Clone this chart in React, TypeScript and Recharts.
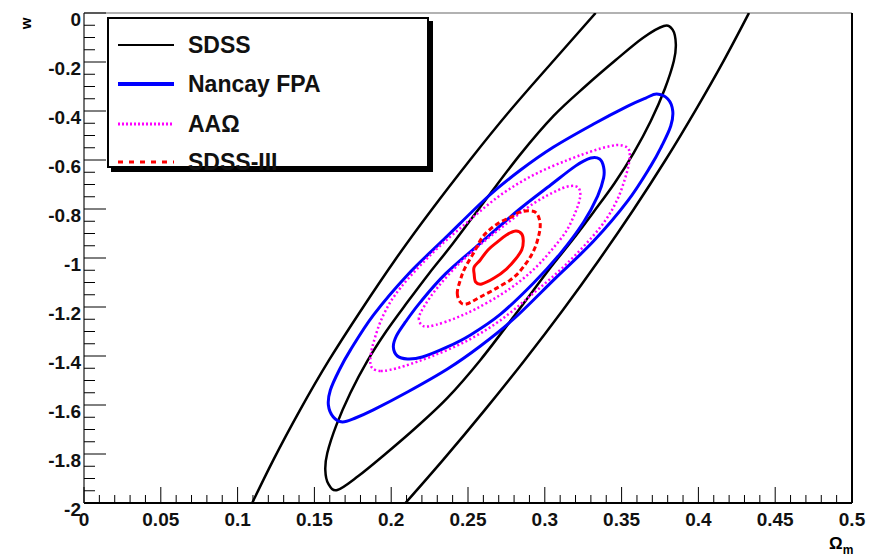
import { LineChart, Line, XAxis, YAxis, ReferenceLine } from "recharts";

type P = [number, number];

// contour points: [Omega_m, w]
const sdss2Left: P[] = [
  [0.1095, -2], [0.1233, -1.824], [0.1407, -1.62], [0.1596, -1.416], [0.1805, -1.212],
  [0.2025, -1.008], [0.2262, -0.804], [0.2513, -0.6], [0.2777, -0.396], [0.3061, -0.192], [0.3331, 0],
];
const sdss2Right: P[] = [
  [0.2093, -2], [0.2338, -1.824], [0.261, -1.62], [0.287, -1.416], [0.3118, -1.212],
  [0.3353, -1.008], [0.3576, -0.804], [0.3786, -0.6], [0.3982, -0.396], [0.4167, -0.192], [0.4329, 0],
];
const sdss1: P[] = [
  [0.1649, -1.947], [0.1591, -1.922], [0.1571, -1.865], [0.1584, -1.796], [0.1643, -1.682],
  [0.1734, -1.551], [0.1845, -1.42], [0.1969, -1.298], [0.2106, -1.18], [0.2249, -1.061],
  [0.2399, -0.943], [0.2614, -0.763], [0.2842, -0.576], [0.3057, -0.42], [0.3266, -0.298],
  [0.3462, -0.192], [0.3638, -0.102], [0.3775, -0.053], [0.3833, -0.069], [0.3853, -0.127],
  [0.384, -0.196], [0.3781, -0.31], [0.369, -0.441], [0.3579, -0.571], [0.3455, -0.694],
  [0.3318, -0.812], [0.3175, -0.931], [0.3025, -1.049], [0.281, -1.229], [0.2581, -1.416],
  [0.2366, -1.571], [0.2158, -1.694], [0.1962, -1.8], [0.1786, -1.89],
];
const nancay2: P[] = [
  [0.1682, -1.669], [0.1623, -1.649], [0.1591, -1.6], [0.1604, -1.539], [0.1662, -1.457],
  [0.1734, -1.376], [0.1884, -1.233], [0.2106, -1.069], [0.2353, -0.918], [0.2627, -0.751],
  [0.2842, -0.641], [0.3057, -0.547], [0.3318, -0.453], [0.354, -0.38], [0.3657, -0.347],
  [0.3729, -0.331], [0.3801, -0.351], [0.3833, -0.4], [0.382, -0.461], [0.3761, -0.543],
  [0.369, -0.624], [0.354, -0.767], [0.3318, -0.931], [0.307, -1.082], [0.2797, -1.249],
  [0.2581, -1.359], [0.2366, -1.453], [0.2106, -1.547], [0.1884, -1.62], [0.1767, -1.653],
];
const nancay1: P[] = [
  [0.2106, -1.412], [0.204, -1.4], [0.2014, -1.363], [0.2034, -1.318], [0.2093, -1.261],
  [0.219, -1.18], [0.2353, -1.065], [0.2581, -0.939], [0.2829, -0.804], [0.3038, -0.702],
  [0.3201, -0.624], [0.3299, -0.592], [0.3357, -0.596], [0.3383, -0.629], [0.3383, -0.673],
  [0.3344, -0.747], [0.3253, -0.853], [0.3103, -0.98], [0.2927, -1.102], [0.2712, -1.229],
  [0.2516, -1.314], [0.2366, -1.363], [0.2203, -1.404],
];
const aao2: P[] = [
  [0.193, -1.461], [0.1877, -1.449], [0.1864, -1.416], [0.1884, -1.347], [0.1949, -1.233],
  [0.206, -1.122], [0.2275, -0.976], [0.2497, -0.853], [0.2712, -0.743], [0.2927, -0.661],
  [0.3149, -0.6], [0.3331, -0.559], [0.3429, -0.543], [0.3488, -0.539], [0.354, -0.551],
  [0.3553, -0.584], [0.3533, -0.653], [0.3468, -0.767], [0.3357, -0.878], [0.3142, -1.024],
  [0.292, -1.147], [0.2705, -1.257], [0.249, -1.339], [0.2269, -1.4], [0.2086, -1.441],
  [0.1988, -1.457],
];
const aao1: P[] = [
  [0.218, -1.245], [0.221, -1.278], [0.229, -1.273], [0.242, -1.245], [0.255, -1.208],
  [0.271, -1.151], [0.284, -1.094], [0.295, -1.033], [0.305, -0.963], [0.314, -0.89],
  [0.32, -0.812], [0.323, -0.751], [0.322, -0.714], [0.317, -0.706], [0.309, -0.722],
  [0.293, -0.776], [0.274, -0.865], [0.257, -0.951], [0.242, -1.037], [0.23, -1.122],
  [0.222, -1.192],
];
const boss2: P[] = [
  [0.243, -1.143], [0.245, -1.18], [0.249, -1.188], [0.258, -1.159], [0.269, -1.122],
  [0.28, -1.078], [0.288, -1.02], [0.293, -0.967], [0.296, -0.91], [0.297, -0.861],
  [0.295, -0.82], [0.291, -0.808], [0.284, -0.812], [0.278, -0.833], [0.269, -0.861],
  [0.26, -0.91], [0.254, -0.976], [0.248, -1.041], [0.245, -1.09],
];
const boss1: P[] = [
  [0.254, -1.065], [0.255, -1.098], [0.259, -1.106], [0.267, -1.082], [0.275, -1.045],
  [0.281, -1.004], [0.285, -0.967], [0.286, -0.931], [0.285, -0.902], [0.281, -0.89],
  [0.275, -0.906], [0.269, -0.935], [0.263, -0.967], [0.258, -1.008], [0.254, -1.037],
];

const xLabels = [0, 0.05, 0.1, 0.15, 0.2, 0.25, 0.3, 0.35, 0.4, 0.45, 0.5];
const yLabels = [-2, -1.8, -1.6, -1.4, -1.2, -1, -0.8, -0.6, -0.4, -0.2, 0];

const legendItems = [
  { name: "SDSS", color: "#000000", width: 2, dash: undefined },
  { name: "Nancay FPA", color: "#0000ff", width: 4, dash: undefined },
  { name: "AA\u03a9", color: "#ff00ff", width: 3, dash: "2 2" },
  { name: "SDSS-III", color: "#ff0000", width: 3, dash: "5 6" },
];

const FONT = '"Liberation Sans", Arial, Helvetica, sans-serif';

const toRows = (pts: P[]) => pts.map(([x, y]) => ({ x, y }));

const subdivide = (majors: number[], n: number) => {
  const out: number[] = [];
  for (let i = 0; i < majors.length - 1; i++) {
    const step = (majors[i + 1] - majors[i]) / n;
    for (let k = 0; k < n; k++) out.push(+(majors[i] + k * step).toFixed(4));
  }
  out.push(majors[majors.length - 1]);
  return out;
};

const xTicks = subdivide(xLabels, 5);
const yTicks = subdivide(yLabels, 4);
const isMajor = (list: number[], v: number) => list.some((t) => Math.abs(t - v) < 1e-6);

// closed catmull-rom through the contour points
const closedCurve: any = (ctx: any) => {
  let pts: number[][] = [];
  return {
    areaStart() {},
    areaEnd() {},
    lineStart() {
      pts = [];
    },
    point(x: number, y: number) {
      pts.push([x, y]);
    },
    lineEnd() {
      const n = pts.length;
      if (!n) return;
      ctx.moveTo(pts[0][0], pts[0][1]);
      for (let i = 0; i < n; i++) {
        const p0 = pts[(i - 1 + n) % n];
        const p1 = pts[i];
        const p2 = pts[(i + 1) % n];
        const p3 = pts[(i + 2) % n];
        ctx.bezierCurveTo(
          p1[0] + (p2[0] - p0[0]) / 6, p1[1] + (p2[1] - p0[1]) / 6,
          p2[0] - (p3[0] - p1[0]) / 6, p2[1] - (p3[1] - p1[1]) / 6,
          p2[0], p2[1]
        );
      }
      ctx.closePath();
    },
  };
};

const XTick = ({ x, y, payload }: any) => {
  const v = payload.value;
  const major = isMajor(xLabels, v);
  return (
    <g>
      <line x1={x} x2={x} y1={y} y2={y - (major ? 16 : 8)} stroke="#000" strokeWidth={1} />
      {major && (
        <text x={x} y={y + 16} textAnchor="middle" dominantBaseline="central"
          fontFamily={FONT} fontWeight="bold" fontSize={19} fill="#111">
          {String(v)}
        </text>
      )}
    </g>
  );
};

const YTick = ({ x, y, payload }: any) => {
  const v = payload.value;
  const major = isMajor(yLabels, v);
  return (
    <g>
      <line x1={x} x2={x + (major ? 22 : 11)} y1={y} y2={y} stroke="#000" strokeWidth={1} />
      {major && (
        <text x={x - 3} y={y + 6} textAnchor="end" dominantBaseline="central"
          fontFamily={FONT} fontWeight="bold" fontSize={19} fill="#111">
          {String(v)}
        </text>
      )}
    </g>
  );
};

export default function App() {
  return (
    <div style={{ position: "absolute", left: 0, top: 0, width: 870, height: 557, background: "#fff" }}>
      <LineChart width={870} height={557} margin={{ top: 13, right: 18, left: 0, bottom: 0 }}>
        <XAxis type="number" dataKey="x" domain={[0, 0.5]} ticks={xTicks} interval={0}
          allowDataOverflow height={54} tickSize={0} tickMargin={0} tickLine={false}
          axisLine={{ stroke: "#000", strokeWidth: 2 }} tick={<XTick />} />
        <YAxis type="number" dataKey="y" domain={[-2, 0]} ticks={yTicks} interval={0}
          allowDataOverflow width={84} tickSize={0} tickMargin={0} tickLine={false}
          axisLine={{ stroke: "#444", strokeWidth: 1.5 }} tick={<YTick />} />
        <ReferenceLine y={0} stroke="#999" strokeWidth={1.5} />
        <ReferenceLine x={0.5} stroke="#000" strokeWidth={2} />

        <Line data={toRows(sdss2Left)} dataKey="y" type="natural" stroke="#000" strokeWidth={2.5} dot={false} isAnimationActive={false} />
        <Line data={toRows(sdss2Right)} dataKey="y" type="natural" stroke="#000" strokeWidth={2.5} dot={false} isAnimationActive={false} />
        <Line data={toRows(sdss1)} dataKey="y" type={closedCurve} stroke="#000" strokeWidth={2.5} dot={false} isAnimationActive={false} />

        <Line data={toRows(nancay2)} dataKey="y" type={closedCurve} stroke="#0000ff" strokeWidth={3} dot={false} isAnimationActive={false} />
        <Line data={toRows(nancay1)} dataKey="y" type={closedCurve} stroke="#0000ff" strokeWidth={3} dot={false} isAnimationActive={false} />

        <Line data={toRows(aao2)} dataKey="y" type={closedCurve} stroke="#ff00ff" strokeWidth={2.5} strokeDasharray="2 2.5" dot={false} isAnimationActive={false} />
        <Line data={toRows(aao1)} dataKey="y" type={closedCurve} stroke="#ff00ff" strokeWidth={2.5} strokeDasharray="2 2.5" dot={false} isAnimationActive={false} />

        <Line data={toRows(boss2)} dataKey="y" type={closedCurve} stroke="#ff0000" strokeWidth={3} strokeDasharray="5 3" dot={false} isAnimationActive={false} />
        <Line data={toRows(boss1)} dataKey="y" type={closedCurve} stroke="#ff0000" strokeWidth={3} dot={false} isAnimationActive={false} />
      </LineChart>

      <div style={{
        position: "absolute", left: 107, top: 17, width: 322, height: 151, boxSizing: "border-box",
        border: "2px solid #000", boxShadow: "4px 4px 0 #000", background: "#fff",
      }}>
        {legendItems.map((it, i) => (
          <div key={it.name} style={{ position: "absolute", left: 0, top: [26, 65, 105, 143][i] - 16, height: 32, width: 318 }}>
            <svg width={60} height={32} style={{ position: "absolute", left: 9, top: 0 }}>
              <line x1={0} x2={56} y1={16} y2={16} stroke={it.color} strokeWidth={it.width} strokeDasharray={it.dash} />
            </svg>
            <span style={{
              position: "absolute", left: 79, top: 0, lineHeight: "32px",
              fontFamily: FONT, fontWeight: "bold", fontSize: 23, color: "#111", whiteSpace: "nowrap",
            }}>{it.name}</span>
          </div>
        ))}
      </div>

      <div style={{
        position: "absolute", left: 20, top: 16, fontFamily: FONT, fontWeight: "bold", fontSize: 15,
        transform: "rotate(-90deg)", transformOrigin: "center", lineHeight: "15px",
      }}>w</div>
      <div style={{ position: "absolute", left: 829, top: 535, fontFamily: FONT, fontWeight: "bold", fontSize: 17, lineHeight: "17px" }}>
        {"\u03a9"}<span style={{ fontSize: 12, position: "relative", top: 5 }}>m</span>
      </div>
    </div>
  );
}
